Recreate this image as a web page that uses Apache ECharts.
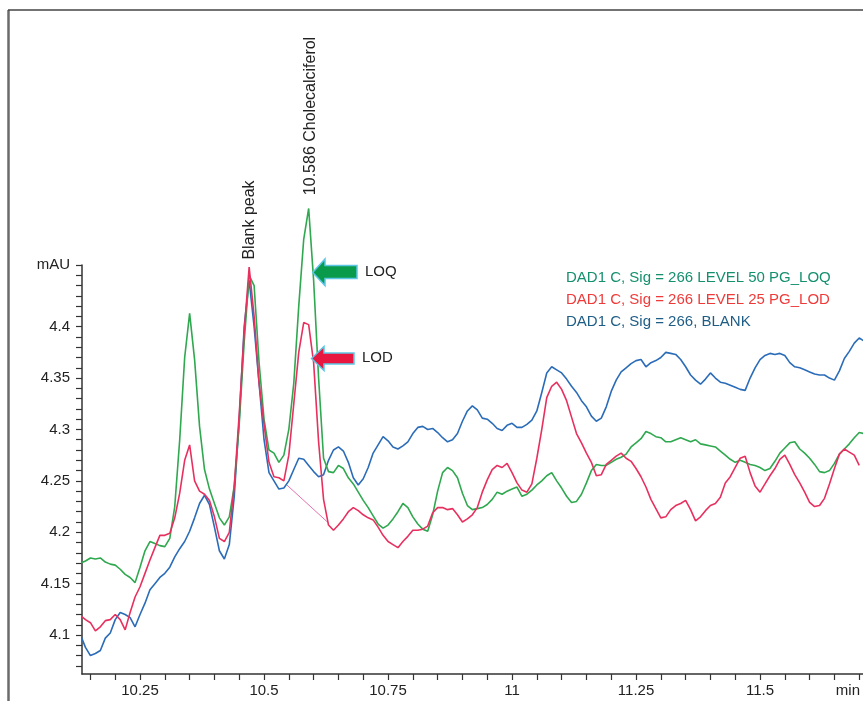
<!DOCTYPE html>
<html>
<head>
<meta charset="utf-8">
<script src="https://cdn.jsdelivr.net/npm/echarts@6/dist/echarts.min.js"></script>
<style>
html,body{margin:0;padding:0;background:#fff;}
#chart{width:863px;height:701px;}
</style>
</head>
<body>
<div id="chart"></div>
<script>
// Sampling grid (retention time, min)
const tStart = 10.13;
const tStep = 0.01;

// LEVEL 50 PG (LOQ) – green
const loqValues = [
4.170,4.172,4.175,4.174,4.175,4.171,4.169,4.168,4.164,4.159,4.156,4.151,
4.166,4.182,4.191,4.189,4.187,4.186,4.194,4.225,4.290,4.370,4.413,4.368,
4.303,4.261,4.242,4.228,4.214,4.207,4.215,4.245,4.305,4.385,4.450,4.440,
4.365,4.310,4.280,4.277,4.268,4.275,4.300,4.345,4.420,4.485,4.515,4.445,
4.350,4.272,4.259,4.258,4.265,4.262,4.253,4.247,4.239,4.231,4.224,4.216,
4.208,4.204,4.207,4.213,4.220,4.228,4.224,4.215,4.208,4.203,4.201,4.217,
4.240,4.258,4.263,4.260,4.253,4.238,4.226,4.222,4.223,4.224,4.227,4.232,
4.239,4.237,4.240,4.242,4.244,4.235,4.237,4.241,4.246,4.250,4.255,4.258,
4.250,4.243,4.235,4.229,4.230,4.237,4.248,4.260,4.266,4.265,4.265,4.268,
4.271,4.273,4.276,4.283,4.287,4.291,4.298,4.296,4.293,4.292,4.288,4.288,
4.290,4.292,4.290,4.288,4.290,4.286,4.285,4.284,4.283,4.279,4.275,4.271,
4.268,4.270,4.268,4.266,4.265,4.263,4.260,4.262,4.269,4.277,4.282,4.287,
4.288,4.281,4.277,4.272,4.266,4.259,4.258,4.260,4.267,4.276,4.281,4.286,
4.292,4.297,4.296
];

// LEVEL 25 PG (LOD) – red
const lodValues = [
4.119,4.115,4.112,4.104,4.108,4.114,4.115,4.120,4.115,4.105,4.122,4.137,
4.147,4.160,4.173,4.185,4.197,4.197,4.199,4.214,4.238,4.270,4.285,4.250,
4.240,4.237,4.231,4.215,4.194,4.191,4.200,4.245,4.315,4.395,4.458,4.410,
4.345,4.305,4.268,4.254,4.253,4.250,4.275,4.325,4.375,4.404,4.402,4.365,
4.288,4.232,4.207,4.202,4.207,4.213,4.220,4.224,4.221,4.217,4.214,4.212,
4.205,4.197,4.191,4.188,4.185,4.191,4.196,4.202,4.202,4.203,4.206,4.219,
4.224,4.224,4.222,4.223,4.217,4.210,4.213,4.217,4.224,4.239,4.251,4.261,
4.265,4.263,4.267,4.258,4.248,4.241,4.239,4.247,4.272,4.300,4.331,4.342,
4.346,4.339,4.328,4.312,4.296,4.287,4.277,4.268,4.255,4.256,4.266,4.270,
4.274,4.277,4.272,4.269,4.262,4.254,4.244,4.232,4.223,4.214,4.215,4.222,
4.226,4.228,4.231,4.222,4.211,4.215,4.221,4.226,4.228,4.234,4.248,4.254,
4.263,4.272,4.274,4.258,4.245,4.239,4.247,4.255,4.262,4.271,4.275,4.266,
4.256,4.248,4.239,4.229,4.225,4.226,4.233,4.247,4.262,4.276,4.281,4.278,
4.275,4.265,null
];

// BLANK – blue
const blankValues = [
4.100,4.088,4.080,4.082,4.085,4.097,4.102,4.115,4.122,4.120,4.117,4.108,
4.120,4.131,4.144,4.150,4.156,4.160,4.166,4.176,4.184,4.191,4.201,4.214,
4.228,4.236,4.227,4.205,4.182,4.174,4.188,4.235,4.310,4.400,4.445,4.400,
4.345,4.290,4.258,4.250,4.242,4.243,4.250,4.261,4.272,4.271,4.265,4.259,
4.254,4.256,4.270,4.280,4.283,4.279,4.268,4.253,4.246,4.252,4.263,4.277,
4.285,4.293,4.289,4.283,4.281,4.284,4.288,4.296,4.302,4.303,4.300,4.301,
4.297,4.292,4.288,4.290,4.296,4.308,4.318,4.323,4.319,4.311,4.310,4.306,
4.301,4.299,4.304,4.306,4.302,4.302,4.305,4.309,4.318,4.336,4.355,4.361,
4.358,4.355,4.349,4.342,4.336,4.328,4.322,4.313,4.308,4.311,4.322,4.337,
4.348,4.356,4.360,4.364,4.367,4.368,4.361,4.365,4.367,4.370,4.375,4.374,
4.373,4.368,4.361,4.353,4.348,4.344,4.349,4.355,4.350,4.346,4.345,4.343,
4.341,4.339,4.338,4.350,4.360,4.368,4.372,4.374,4.373,4.374,4.372,4.365,
4.361,4.360,4.358,4.356,4.354,4.353,4.353,4.350,4.348,4.357,4.369,4.376,
4.384,4.389,4.386
];

// integration baseline drawn under the LOD cholecalciferol peak
const lodBaselineT = [10.546, 10.630];
const lodBaselineV = [4.246, 4.209];

// axis ticks / labels
const xLabelValues = [10.25, 10.5, 10.75, 11, 11.25, 11.5];
const xTickStart = 10.15, xTickEnd = 11.70, xTickStep = 0.05;
const yLabelValues = [4.1, 4.15, 4.2, 4.25, 4.3, 4.35, 4.4, 4.46];
const yUnitValue = 4.46;
const yTickStart = 4.07, yTickEnd = 4.46, yTickStep = 0.01;

const seriesNames = [
  'DAD1 C, Sig = 266 LEVEL 50 PG_LOQ',
  'DAD1 C, Sig = 266 LEVEL 25 PG_LOD',
  'DAD1 C, Sig = 266, BLANK'
];
const peakLabels = ['Blank peak', '10.586 Cholecalciferol'];

// ---- build
const r = v => Math.round(v * 10000) / 10000;
function pairs(vals) {
  return vals.map((v, i) => [r(tStart + i * tStep), v]);
}
const xTicks = [];
for (let v = xTickStart; v <= xTickEnd + 1e-9; v += xTickStep) xTicks.push(r(v));
const yTicks = [];
for (let v = yTickStart; v <= yTickEnd + 1e-9; v += yTickStep) yTicks.push(r(v));

const C_GREEN = '#2fa84f', C_RED = '#e8305f', C_BLUE = '#2b6cb8';
const axisColor = '#333';
const font = 'Liberation Sans, Arial, sans-serif';

const chart = echarts.init(document.getElementById('chart'), null, {renderer: 'canvas'});
const lineBase = {type: 'line', showSymbol: false, smooth: false, animation: false, clip: false};

chart.setOption({
  animation: false,
  backgroundColor: '#fff',
  grid: {left: 82, right: 0, top: 265, bottom: 27},
  xAxis: {
    type: 'value', min: 10.133, max: 11.7076,
    splitLine: {show: false},
    axisLine: {onZero: false, lineStyle: {color: axisColor, width: 1.5}},
    axisTick: {show: true, customValues: xTicks, length: 6, lineStyle: {color: axisColor, width: 1.2}},
    axisLabel: {customValues: xLabelValues, margin: 9, color: '#222', fontSize: 15, fontFamily: font}
  },
  yAxis: {
    type: 'value', min: 4.0621, max: 4.46,
    splitLine: {show: false},
    axisLine: {show: true, onZero: false, lineStyle: {color: axisColor, width: 1.5}},
    axisTick: {show: true, customValues: yTicks, length: 6, lineStyle: {color: axisColor, width: 1.2}},
    axisLabel: {
      customValues: yLabelValues, margin: 12, color: '#222', fontSize: 15, fontFamily: font,
      formatter: v => Math.abs(v - yUnitValue) < 1e-6 ? 'mAU' : String(r(v))
    }
  },
  series: [
    Object.assign({}, lineBase, {name: seriesNames[2], data: pairs(blankValues), lineStyle: {color: C_BLUE, width: 1.6}, itemStyle: {color: C_BLUE}, z: 2}),
    Object.assign({}, lineBase, {name: seriesNames[0], data: pairs(loqValues), lineStyle: {color: C_GREEN, width: 1.6}, itemStyle: {color: C_GREEN}, z: 3}),
    Object.assign({}, lineBase, {name: seriesNames[1], data: pairs(lodValues), lineStyle: {color: C_RED, width: 1.6}, itemStyle: {color: C_RED}, z: 4}),
    {type: 'line', showSymbol: false, animation: false,
     data: lodBaselineT.map((t, i) => [t, lodBaselineV[i]]),
     lineStyle: {color: '#e472b0', width: 1}, z: 1}
  ],
  graphic: [
    // figure frame
    {type: 'line', shape: {x1: 8.5, y1: 10, x2: 8.5, y2: 701}, style: {stroke: '#6b6b6b', lineWidth: 2.5}},
    {type: 'line', shape: {x1: 8, y1: 10, x2: 863, y2: 10}, style: {stroke: '#444', lineWidth: 1.5}},
    // series labels
    {type: 'text', left: 566, top: 270, style: {text: seriesNames[0], fill: '#15906f', font: '15px ' + font}},
    {type: 'text', left: 566, top: 292, style: {text: seriesNames[1], fill: '#ee3b3a', font: '15px ' + font}},
    {type: 'text', left: 566, top: 314, style: {text: seriesNames[2], fill: '#1e5d86', font: '15px ' + font}},
    // peak annotations (vertical)
    {type: 'text', x: 250, y: 220, rotation: Math.PI / 2,
     style: {text: peakLabels[0], fill: '#222', font: '16px ' + font, align: 'center', verticalAlign: 'middle'}},
    {type: 'text', x: 311, y: 116, rotation: Math.PI / 2,
     style: {text: peakLabels[1], fill: '#222', font: '16px ' + font, align: 'center', verticalAlign: 'middle'}},
    // arrows
    {type: 'polygon', shape: {points: [[312.7,272.5],[325,259],[325,265.5],[357,265.5],[357,278.5],[325,278.5],[325,285.5]]},
     style: {fill: '#0a9a4c', stroke: '#5cc6e4', lineWidth: 1.5}, z: 10},
    {type: 'polygon', shape: {points: [[311.5,358.5],[324,346.5],[324,353],[354,353],[354,364],[324,364],[324,370.5]]},
     style: {fill: '#e8173f', stroke: '#5cc6e4', lineWidth: 1.5}, z: 10},
    {type: 'text', left: 365, top: 264, style: {text: 'LOQ', fill: '#222', font: '15px ' + font}},
    {type: 'text', left: 362, top: 350, style: {text: 'LOD', fill: '#222', font: '15px ' + font}},
    // axis unit
    {type: 'text', right: 3, top: 683, style: {text: 'min', fill: '#222', font: '15px ' + font}}
  ]
});
</script>
</body>
</html>
